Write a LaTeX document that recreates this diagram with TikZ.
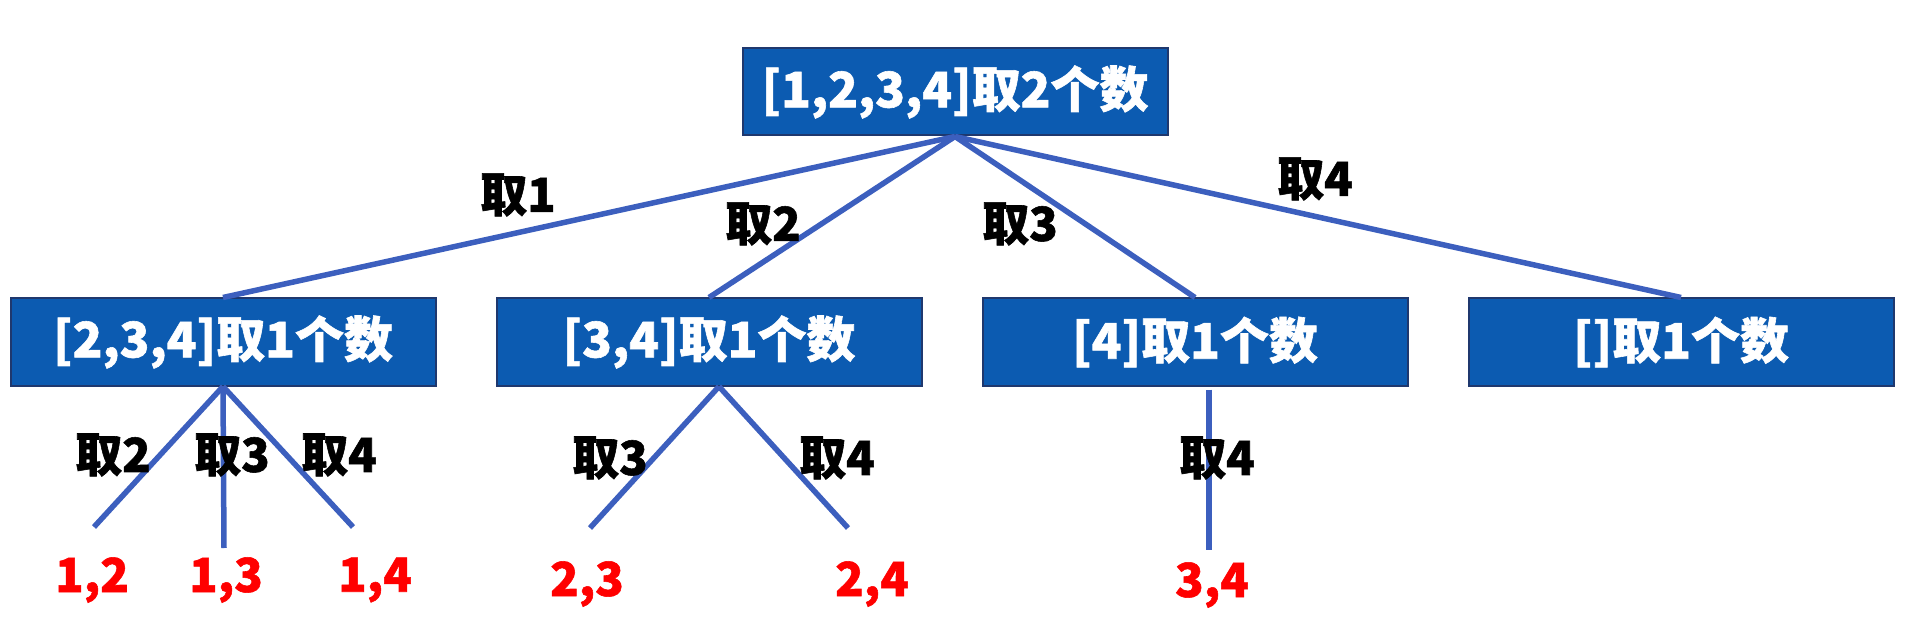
\documentclass[tikz,border=0pt]{standalone}
\usepackage{fontspec}
\setmainfont{Noto Sans CJK SC}[BoldFeatures={FakeBold=1.2}]
\usetikzlibrary{positioning}
\definecolor{boxblue}{RGB}{12,91,177}
\definecolor{boxline}{RGB}{31,56,110}
\definecolor{treeline}{RGB}{60,95,190}
\tikzset{
	numbox/.style={draw=boxline, line width=2pt, fill=boxblue, text=white,
		minimum width=425pt, minimum height=87pt, inner sep=0pt,
		font=\fontsize{49}{56}\selectfont\bfseries},
	branch/.style={draw=treeline, line width=5.5pt},
	pick/.style={font=\fontsize{47}{54}\selectfont\bfseries, inner sep=0pt},
	leaf/.style={pick, text=red},
}

\begin{document}
\begin{tikzpicture}[x=1pt,y=-1pt]
	\useasboundingbox (0,0) rectangle (1906,620);
	%% top
	\node[numbox] (b0) at (955,92) {[1,2,3,4]取2个数};
	%% second row
	\node[numbox] (b1) at (223,342) {[2,3,4]取1个数};
	\node[numbox, right =59pt of b1] (b2) {[3,4]取1个数};
	\node[numbox, right =59pt of b2] (b3) {[4]取1个数};
	\node[numbox, right =59pt of b3] (b4) {[]取1个数};
	% 第一层连线
	\draw[branch] (b0.south) -- (b1.north);
	\draw[branch] (b0.south) -- (b2.north);
	\draw[branch] (b0.south) -- (b3.north);
	\draw[branch] (b0.south) -- (b4.north);
	\node[pick] (p1) at (518,195) {取1};
	\node[pick] (p2) at (763,224) {取2};
	\node[pick] (p3) at (1020,224) {取3};
	\node[pick] (p4) at (1315,179) {取4};
	%% leaves of b1
	\coordinate (e12) at (94,527);
	\coordinate (e13) at (224,548);
	\coordinate (e14) at (353,527);
	\draw[branch] (b1.south) -- (e12);
	\draw[branch] (b1.south) -- (e13);
	\draw[branch] (b1.south) -- (e14);
	\node[pick] (q12) at (113,455) {取2};
	\node[pick] (q13) at (232,455) {取3};
	\node[pick] (q14) at (339,455) {取4};
	\node[leaf] (c12) at (92,580) {1,2};
	\node[leaf] (c13) at (226,580) {1,3};
	\node[leaf] (c14) at (375,580) {1,4};
	%% leaves of b2
	\coordinate (a2) at ([xshift=10pt]b2.south);
	\coordinate (e23) at (590,528);
	\coordinate (e24) at (848,528);
	\draw[branch] (a2) -- (e23);
	\draw[branch] (a2) -- (e24);
	\node[pick] (q23) at (610,458) {取3};
	\node[pick] (q24) at (837,458) {取4};
	\node[leaf] (c23) at (587,584) {2,3};
	\node[leaf] (c24) at (872,584) {2,4};
	%% leaf of b3
	\coordinate (a3) at ([xshift=14pt,yshift=-3pt]b3.south);
	\coordinate (e34) at (a3 |- 0,550);
	\draw[branch] (a3) -- (e34);
	\node[pick] (q34) at (1217,458) {取4};
	\node[leaf] (c34) at (1212,585) {3,4};
\end{tikzpicture}
\end{document}
